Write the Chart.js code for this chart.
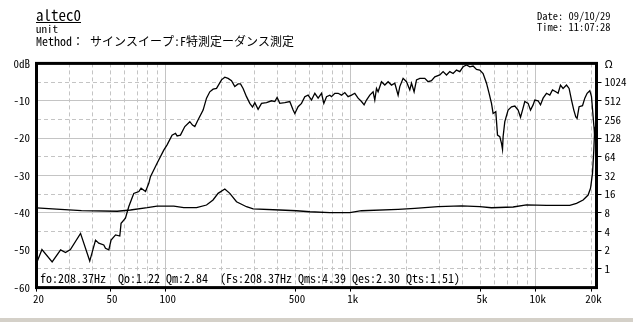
<!DOCTYPE html>
<html><head><meta charset="utf-8">
<script src="https://cdn.jsdelivr.net/npm/chart.js@4"></script>
<style>
html,body{margin:0;padding:0;background:#d4d0c8;}
#wrap{position:relative;width:633px;height:318px;background:#fff;overflow:hidden;}
canvas{position:absolute;left:0;top:0;}
.t{position:absolute;white-space:pre;color:#000;font-family:'Noto Sans Mono CJK JP','Noto Sans CJK JP','DejaVu Sans Mono',monospace;line-height:1;}
</style></head>
<body>
<div id="wrap">
<canvas id="c" width="633" height="318"></canvas>
<div class="t" style="left:36px;top:7px;font-size:15px;text-decoration:underline;">altec0</div>
<div class="t" style="left:36px;top:23px;font-size:11px;">unit</div>
<div class="t" style="left:36px;top:35px;font-size:12px;">Method： サインスイープ:F特測定ーダンス測定</div>
<div class="t" style="left:537px;top:11px;font-size:10.5px;">Date: 09/10/29</div>
<div class="t" style="left:537px;top:22px;font-size:10.5px;">Time: 11:07:28</div>
<div class="t" style="left:40px;top:272px;font-size:12px;">fo:208.37Hz  Qo:1.22 Qm:2.84  (Fs:208.37Hz Qms:4.39 Qes:2.30 Qts:1.51)</div>
</div>
<script>
// ---- data ----
const freqSpl = [20,21.4,24.3,27.0,28.7,30.5,34.6,38.8,41.7,43.4,46.2,47.2,49.2,50.6,53.5,56.4,57.3,60.5,63.1,67.1,71.5,73.5,77.7,80.9,82.6,89.7,97.5,101.6,108.1,112.8,115.1,120.0,126.7,134.8,139.4,143.5,149.5,159.1,166.0,172.9,180.2,188.0,200.0,208.4,217.1,226.5,236.0,245.9,253.4,261.7,273.0,284.5,294.2,302.8,315.4,329.1,350.3,372.7,388.3,399.6,413.2,439.8,468.0,487.7,498.1,518.9,541.4,564.1,587.8,613.2,639.0,665.8,694.6,714.8,739.2,770.2,786.6,819.6,853.9,890.8,928.1,966.9,1008.6,1050.9,1094.9,1142.3,1180,1215.6,1266.6,1319.7,1347.8,1376.6,1404.4,1465.2,1526.9,1590.8,1659.6,1729.1,1801.7,1840,1917.3,2000,2084,2128.6,2198.4,2265.2,2360.3,2511.9,2617,2730,2844.6,3027.2,3154.4,3290.8,3428.7,3572.7,3727,3883.2,4045.8,4221,4397.4,4582,4780,4981,5189,5414,5592,5761,5877,6078,6208,6388,6525,6607,6657,6799,7084,7391,7701,8023,8267,8475,8720,9087,9362,9669,9876,10290,10602,10950,11423,11903,12310,12825,13197,13597,14043,14651,15135,15595,16047,16451,16719,17140,17882,18403,18936,19584,20000,20583,20840];
const splDb = [-53.5,-49.8,-53.1,-49.9,-50.6,-49.8,-45.5,-52.9,-47.3,-48.1,-48.6,-49.5,-49.9,-47.3,-45.9,-46.2,-42.8,-41.4,-38.3,-34.8,-34.3,-33.4,-34.3,-32.1,-30.3,-26.7,-23.2,-21.8,-19.2,-18.7,-19.4,-19.2,-16.9,-15.6,-16.5,-16.9,-15.1,-12.5,-9.3,-7.6,-6.9,-6.7,-4.4,-3.7,-4.0,-4.6,-6.2,-5.5,-5.5,-6.7,-8.9,-10.7,-11.7,-10.5,-12.3,-10.7,-10.5,-10.0,-10.2,-9.1,-10.7,-10.5,-10.2,-12.5,-13.4,-11.6,-10.7,-8.9,-8.5,-9.8,-8.0,-9.3,-8.0,-10.7,-8.9,-8.5,-8.9,-8.0,-8.0,-8.5,-7.8,-8.9,-8.5,-8.0,-9.3,-10.2,-11.1,-9.8,-8.5,-7.6,-9.8,-6.7,-7.6,-4.9,-5.8,-4.9,-5.8,-5.3,-8.5,-6.2,-4.0,-4.9,-7.1,-5.3,-7.6,-4.4,-4.0,-4.0,-4.9,-4.6,-3.6,-3.1,-2.2,-3.1,-2.2,-2.7,-1.8,-2.2,-0.9,-0.4,-0.9,-0.7,-1.6,-1.8,-2.7,-5.3,-8.0,-10.7,-13.4,-12.9,-19.2,-19.6,-21.4,-23.0,-19.6,-15.6,-12.5,-11.6,-11.4,-12.5,-14.4,-12.5,-10.2,-10.7,-12.5,-11.1,-9.8,-10.0,-11.1,-9.3,-8.0,-8.5,-7.1,-7.6,-8.0,-5.8,-6.7,-5.8,-6.7,-9.8,-12.5,-14.3,-14.7,-11.6,-11.3,-9.3,-8.0,-7.3,-8.9,-16.5,-19.6];
const freqImp = [20,27,35,54.6,64.4,79.4,89.7,110.5,125,146.6,166,180,191.7,208.4,221.8,241.1,273,296.5,413,508.7,600.3,770,987.6,1142,1802,2218,2965,3966,4981,5761,7540,8906,11423,15265,16596,18017,19173,19757,20251,20583,20840];
const impOhm = [9.6,9.1,8.7,8.5,8.9,9.7,10.3,10.3,9.7,9.7,10.7,12.9,16.5,19.4,16.5,12.1,10.05,9.25,8.9,8.66,8.34,8.1,8.1,8.66,9.13,9.47,10.05,10.4,10.05,9.68,9.94,10.8,10.6,10.6,11.4,12.9,15.5,19.9,34.7,82,195];
const xLabelTicks = [20,50,100,500,1000,5000,10000,20000];
const xLabelText = ['20','50','100','500','1k','5k','10k','20k'];
const xSolid = [100,1000,10000];
const xDashed = [30,40,50,60,70,80,90,200,300,400,500,600,700,800,900,2000,3000,4000,5000,6000,7000,8000,9000,20000];
const yTicks = [-60,-50,-40,-30,-20,-10,0];
const yDashed = [-55,-45,-35,-25,-15,-5];
const ohmTicks = [1,2,4,8,16,32,64,128,256,512,1024,2048];

// ---- chart ----
const GRAY = '#c4c4c4';
const CLEAR = 'rgba(0,0,0,0)';
const XMIN = 20, XMAX = 21285;
Chart.defaults.font.family = "'Noto Sans Mono CJK JP','Noto Sans CJK JP','DejaVu Sans Mono',monospace";
Chart.defaults.color = '#000';

const frame = {
  id: 'frame',
  afterDatasetsDraw(chart) {
    const {ctx, chartArea: a} = chart;
    ctx.save();
    ctx.strokeStyle = '#000';
    ctx.lineWidth = 3;
    ctx.strokeRect(a.left, a.top, a.right - a.left, a.bottom - a.top);
    ctx.restore();
  }
};

new Chart(document.getElementById('c'), {
  type: 'line',
  data: {
    datasets: [
      { data: freqSpl.map((f, i) => ({x: f, y: splDb[i]})), xAxisID: 'x', yAxisID: 'y',
        borderColor: '#000', borderWidth: 1.3, pointRadius: 0, fill: false, tension: 0 },
      { data: freqImp.map((f, i) => ({x: f, y: impOhm[i]})), xAxisID: 'x', yAxisID: 'yR',
        borderColor: '#000', borderWidth: 1.3, pointRadius: 0, fill: false, tension: 0 }
    ]
  },
  options: {
    responsive: false,
    devicePixelRatio: 1,
    animation: false,
    events: [],
    layout: { padding: { top: 63.4, left: 0, right: 0, bottom: 0 } },
    plugins: { legend: { display: false }, tooltip: { enabled: false } },
    scales: {
      x: {
        type: 'logarithmic', position: 'bottom', min: XMIN, max: XMAX,
        afterBuildTicks: s => { s.ticks = xLabelTicks.map(v => ({value: v})); },
        afterFit: s => { s.height = 30.4; },
        ticks: { autoSkip: false, maxRotation: 0, font: {size: 11}, padding: 1, labelOffset: 2,
          callback: v => { const i = xLabelTicks.indexOf(v); return i >= 0 ? xLabelText[i] : ''; } },
        grid: { color: c => (c.tick && xSolid.includes(c.tick.value)) ? GRAY : CLEAR,
          tickColor: '#000', tickLength: 4, lineWidth: 1 },
        border: { display: false }
      },
      x2: {
        type: 'logarithmic', position: 'bottom', min: XMIN, max: XMAX,
        afterBuildTicks: s => { s.ticks = xDashed.map(v => ({value: v})); },
        afterFit: s => { s.height = 0; },
        ticks: { display: false },
        grid: { color: GRAY, drawTicks: false, lineWidth: 1 },
        border: { display: false, dash: [4, 3] }
      },
      y: {
        type: 'linear', position: 'left', min: -60, max: 0,
        afterBuildTicks: s => { s.ticks = yTicks.map(v => ({value: v})); },
        afterFit: s => { s.width = 36.5; },
        ticks: { font: {size: 11}, padding: 6.5, callback: v => v === 0 ? '0dB' : String(v) },
        grid: { color: c => (c.tick && (c.tick.value === 0 || c.tick.value === -60)) ? CLEAR : GRAY,
          drawTicks: false, lineWidth: 1 },
        border: { display: false }
      },
      y2: {
        type: 'linear', position: 'left', min: -60, max: 0,
        afterBuildTicks: s => { s.ticks = yDashed.map(v => ({value: v})); },
        afterFit: s => { s.width = 0; },
        ticks: { display: false },
        grid: { color: GRAY, drawTicks: false, lineWidth: 1 },
        border: { display: false, dash: [4, 3] }
      },
      yR: {
        type: 'logarithmic', position: 'right', min: 0.5, max: 2048,
        afterBuildTicks: s => { s.ticks = ohmTicks.map(v => ({value: v})); },
        afterFit: s => { s.width = 36.5; },
        ticks: { font: {size: 11}, padding: 3, autoSkip: false, callback: v => v === 2048 ? 'Ω' : String(v) },
        grid: { drawOnChartArea: false, tickLength: 5,
          tickColor: c => (c.tick && c.tick.value === 2048) ? CLEAR : '#000' },
        border: { display: false }
      }
    }
  },
  plugins: [frame]
});
</script>
</body></html>
